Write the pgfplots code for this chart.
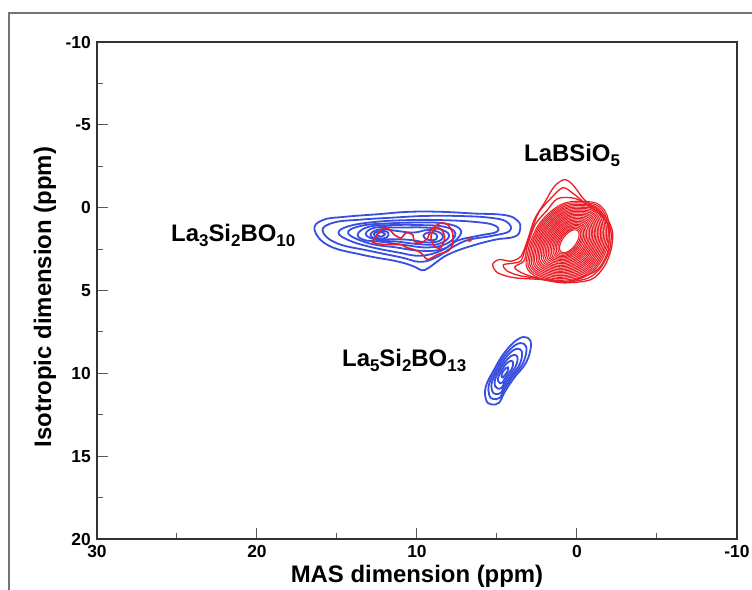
\documentclass[border=0pt]{standalone}
\usepackage{pgfplots}
\pgfplotsset{compat=1.18}
\usepackage{fontspec}
\setmainfont{Liberation Sans}
\definecolor{blueC}{RGB}{55,78,225}
\definecolor{redC}{RGB}{234,30,38}
\newcommand{\sub}[1]{\raisebox{-5bp}{\fontsize{17}{17}\selectfont #1}}
\begin{document}
\begin{tikzpicture}
\begin{axis}[
  at={(0,0)}, anchor=south west,
  scale only axis, width=640bp, height=497bp,
  x dir=reverse, y dir=reverse,
  xmin=-10, xmax=30, ymin=-10, ymax=20,
  xtick={-10,0,10,20,30}, xticklabels={-10,0,10,20,30},
  ytick={-10,-5,0,5,10,15,20}, yticklabels={-10,-5,0,5,10,15,20},
  minor tick num=1,
  tick align=inside, tick pos=left,
  major tick length=11bp, minor tick length=6bp,
  axis line style={draw=black!80, line width=1.3bp},
  tick style={draw=black!65, line width=1bp},
  ticklabel style={font=\bfseries\fontsize{17.5}{17.5}\selectfont, inner sep=0pt},
  xticklabel style={yshift=-6bp},
  yticklabel style={xshift=-6bp},
  xlabel={MAS dimension (ppm)},
  ylabel={Isotropic dimension (ppm)},
  xlabel style={at={(axis description cs:0.5,0)}, anchor=center, yshift=-37bp, font=\bfseries\fontsize{24}{24}\selectfont},
  ylabel style={at={([xshift=-52bp]axis description cs:0,0.487)}, anchor=center, font=\bfseries\fontsize{24}{24}\selectfont},
  bc/.style={draw=blueC, line width=1.8bp, smooth cycle, tension=0.7, mark=none},
  rc/.style={draw=redC, line width=1.3bp, smooth cycle, tension=0.7, mark=none},
  rd/.style={draw=redC, line width=1.1bp, smooth cycle, tension=0.7, mark=none},
]
% ---- La3Si2BO10 (blue)
\addplot[bc] coordinates {(16.4,1.35)(15.9,0.75)(14.5,0.55)(12.5,0.4)(10.5,0.25)(8.5,0.25)(6.5,0.35)(4.5,0.45)(3.7,0.8)(3.55,1.3)(3.9,1.75)(5.2,1.95)(6.9,2.4)(8.1,2.85)(8.8,3.3)(9.3,3.65)(9.7,3.78)(10.2,3.55)(11.2,3.25)(13.4,2.85)(15.5,2.3)};
\addplot[bc] coordinates {(15.9,1.4)(15.2,0.9)(13.5,0.72)(11.5,0.6)(9.5,0.5)(7.5,0.5)(5.5,0.6)(4.4,0.85)(4.2,1.4)(5.3,1.7)(6.8,1.95)(7.8,2.4)(8.8,3.0)(9.8,3.27)(11,3.0)(13,2.6)(15,2.15)};
\addplot[bc] coordinates {(14.9,1.5)(14.2,1.1)(12.5,0.85)(10.5,0.75)(8.5,0.75)(6.5,0.85)(5.2,1.05)(5.0,1.45)(6.2,1.7)(7.5,2.0)(8.5,2.6)(9.8,2.9)(11.2,2.7)(13,2.35)(14.3,1.95)};
\addplot[bc] coordinates {(14.3,1.55)(13.5,1.1)(11.8,0.95)(10,0.9)(8.3,0.95)(7.3,1.3)(7.5,1.9)(8.4,2.5)(9.8,2.6)(11.3,2.4)(13,2.15)};
\addplot[bc] coordinates {(13.7,1.6)(13,1.15)(11.5,1.05)(9.8,1.05)(8.3,1.15)(7.6,1.55)(8.1,2.15)(9.3,2.4)(10.8,2.25)(12.3,2.05)(13.3,1.95)};
\addplot[bc] coordinates {(13.2,1.6)(12.6,1.2)(11.2,1.2)(9.5,1.2)(8.4,1.35)(8.0,1.75)(8.7,2.2)(9.9,2.2)(11.2,2.05)(12.5,1.95)};
\addplot[bc] coordinates {(12.9,1.6)(12.3,1.3)(11.3,1.4)(10.2,1.5)(9.3,1.35)(8.5,1.55)(8.5,1.95)(9.3,2.1)(10.4,1.95)(11.5,1.9)(12.5,1.9)};
\addplot[bc] coordinates {(12.7,1.6)(12.3,1.4)(11.8,1.5)(11.9,1.8)(12.4,1.85)};
\addplot[bc] coordinates {(9.3,1.5)(8.8,1.6)(8.8,1.9)(9.3,1.95)(9.6,1.7)};
\addplot[bc] coordinates {(12.5,1.62)(12.25,1.48)(12.0,1.6)(12.25,1.75)};
% ---- red inside La3Si2BO10
\addplot[rc, line width=1.6bp, tension=0.4] coordinates {(12.77,2.03)(12.25,1.33)(11.83,1.23)(11.42,1.63)(11.0,1.83)(10.69,1.52)(10.27,1.63)(10.17,2.03)(9.75,2.13)(9.33,1.83)(9.13,1.33)(8.5,0.92)(8.08,1.02)(7.77,1.52)(7.77,2.23)(8.08,2.63)(8.71,2.83)(9.33,3.13)(9.75,2.73)(10.17,2.53)(10.58,2.43)(11.0,2.23)(11.42,2.23)(12.04,2.23)(12.67,2.13)};
\addplot[rc, line width=1.6bp] coordinates {(8.71,1.2)(8.35,1.5)(8.3,2.0)(8.6,2.45)(9.0,2.2)(9.1,1.6)};
\addplot[rc] coordinates {(6.75,1.88)(6.62,1.9)(6.62,2.0)(6.75,2.02)};
% ---- La5Si2BO13 (blue)
\addplot[bc] coordinates {(3.08,7.85)(2.88,8.36)(3.19,9.36)(3.92,10.26)(4.54,11.16)(4.86,11.77)(5.38,11.87)(5.69,11.57)(5.69,10.77)(5.17,9.76)(4.54,8.76)(3.71,7.95)};
\addplot[bc] coordinates {(3.33,8.21)(3.16,8.63)(3.42,9.46)(4.03,10.21)(4.54,10.96)(4.81,11.46)(5.24,11.55)(5.49,11.30)(5.49,10.63)(5.06,9.79)(4.54,8.96)(3.85,8.29)};
\addplot[bc] coordinates {(3.56,8.55)(3.43,8.89)(3.64,9.56)(4.12,10.16)(4.54,10.76)(4.75,11.17)(5.10,11.24)(5.31,11.04)(5.31,10.50)(4.96,9.83)(4.54,9.16)(3.98,8.61)};
\addplot[bc] coordinates {(3.81,8.91)(3.71,9.16)(3.87,9.66)(4.23,10.11)(4.54,10.56)(4.70,10.87)(4.96,10.92)(5.12,10.77)(5.12,10.37)(4.86,9.86)(4.54,9.36)(4.13,8.96)};
\addplot[bc] coordinates {(4.06,9.26)(3.99,9.43)(4.09,9.76)(4.34,10.06)(4.54,10.36)(4.65,10.56)(4.82,10.59)(4.92,10.49)(4.92,10.23)(4.75,9.89)(4.54,9.56)(4.27,9.30)};
\addplot[bc] coordinates {(4.32,9.64)(4.34,9.87)(4.54,10.14)(4.67,10.25)(4.71,10.08)(4.54,9.78)};
% ---- LaBSiO5 (red)
\addplot[rc, tension=0.5] coordinates {(0.79,-1.69)(0.27,-1.39)(-0.46,-0.48)(-1.29,0.12)(-1.92,0.72)(-2.23,1.52)(-2.13,2.53)(-1.71,3.54)(-0.88,4.34)(0.79,4.54)(2.25,4.34)(3.92,4.23)(4.96,3.93)(5.27,3.43)(4.86,3.13)(4.13,3.23)(3.5,2.93)(3.08,1.93)(2.67,0.72)(2.04,-0.28)(1.42,-1.28)};
\addplot[rc, tension=0.5] coordinates {(0.9,-1.2)(0.3,-0.9)(-0.6,-0.2)(-1.5,0.45)(-2.1,1.3)(-2.05,2.5)(-1.5,3.6)(-0.7,4.25)(0.7,4.48)(2.2,4.3)(3.6,4.1)(4.4,3.8)(4.6,3.45)(4.0,3.35)(3.5,3.2)(3.2,2.4)(2.8,1.3)(2.4,0.3)(1.6,-0.6)};
\addplot[rc, tension=0.5] coordinates {(1.2,-0.55)(0.1,-0.55)(-1.0,0.05)(-1.9,0.95)(-1.95,2.55)(-1.2,3.8)(0.6,4.45)(2.1,4.33)(3.3,4.0)(3.9,3.6)(3.3,3.2)(3.1,2.3)(2.6,1.0)(1.9,0.2)};
% dense levels
\addplot[rd] coordinates {(-1.50,-0.10)(-0.25,-0.38)(1.00,-0.18)(2.15,0.72)(2.77,1.73)(3.08,2.73)(3.08,3.73)(2.04,4.34)(0.58,4.44)(-0.88,3.93)(-1.81,2.63)(-2.02,1.13)};
\addplot[rd] coordinates {(-1.42,-0.03)(-0.23,-0.29)(0.97,-0.10)(2.08,0.77)(2.68,1.75)(2.98,2.72)(2.97,3.68)(1.98,4.25)(0.58,4.35)(-0.83,3.85)(-1.72,2.59)(-1.93,1.15)};
\addplot[rd] coordinates {(-1.35,0.05)(-0.21,-0.20)(0.95,-0.01)(2.01,0.82)(2.60,1.77)(2.88,2.70)(2.87,3.62)(1.91,4.18)(0.57,4.25)(-0.78,3.77)(-1.64,2.56)(-1.83,1.18)};
\addplot[rd] coordinates {(-1.28,0.12)(-0.19,-0.12)(0.92,0.07)(1.95,0.87)(2.51,1.79)(2.78,2.69)(2.77,3.57)(1.85,4.09)(0.56,4.16)(-0.72,3.69)(-1.55,2.53)(-1.74,1.20)};
\addplot[rd] coordinates {(-1.21,0.20)(-0.16,-0.03)(0.90,0.15)(1.88,0.93)(2.42,1.81)(2.68,2.67)(2.66,3.52)(1.79,4.01)(0.56,4.07)(-0.67,3.61)(-1.46,2.49)(-1.64,1.22)};
\addplot[rd] coordinates {(-1.13,0.27)(-0.14,0.05)(0.87,0.24)(1.81,0.98)(2.33,1.83)(2.59,2.66)(2.56,3.47)(1.72,3.93)(0.55,3.97)(-0.62,3.53)(-1.37,2.46)(-1.55,1.25)};
\addplot[rd] coordinates {(-1.06,0.35)(-0.12,0.14)(0.85,0.32)(1.75,1.03)(2.25,1.85)(2.48,2.65)(2.45,3.41)(1.66,3.85)(0.54,3.88)(-0.57,3.44)(-1.29,2.42)(-1.46,1.27)};
\addplot[rd] coordinates {(-0.99,0.42)(-0.10,0.23)(0.82,0.40)(1.68,1.08)(2.16,1.87)(2.39,2.63)(2.35,3.36)(1.60,3.77)(0.54,3.79)(-0.52,3.36)(-1.20,2.39)(-1.36,1.30)};
\addplot[rd] coordinates {(-0.91,0.50)(-0.07,0.31)(0.80,0.49)(1.61,1.14)(2.07,1.89)(2.29,2.62)(2.25,3.31)(1.53,3.69)(0.53,3.70)(-0.47,3.28)(-1.11,2.35)(-1.27,1.32)};
\addplot[rd] coordinates {(-0.84,0.57)(-0.05,0.40)(0.78,0.57)(1.54,1.19)(1.98,1.91)(2.19,2.61)(2.14,3.25)(1.47,3.61)(0.53,3.60)(-0.41,3.20)(-1.02,2.32)(-1.17,1.34)};
\addplot[rd] coordinates {(-0.77,0.65)(-0.03,0.48)(0.75,0.65)(1.48,1.24)(1.90,1.93)(2.09,2.59)(2.04,3.20)(1.40,3.53)(0.52,3.51)(-0.36,3.12)(-0.94,2.28)(-1.08,1.37)};
\addplot[rd] coordinates {(-0.69,0.72)(-0.01,0.57)(0.73,0.73)(1.41,1.29)(1.81,1.95)(1.99,2.58)(1.93,3.15)(1.34,3.45)(0.51,3.42)(-0.31,3.03)(-0.85,2.25)(-0.98,1.39)};
\addplot[rd] coordinates {(-0.62,0.79)(0.02,0.66)(0.70,0.82)(1.34,1.35)(1.72,1.96)(1.89,2.56)(1.83,3.09)(1.27,3.36)(0.50,3.32)(-0.26,2.95)(-0.76,2.22)(-0.89,1.42)};
\addplot[rd] coordinates {(-0.55,0.87)(0.04,0.74)(0.68,0.90)(1.28,1.40)(1.63,1.98)(1.79,2.55)(1.72,3.04)(1.21,3.28)(0.50,3.23)(-0.21,2.87)(-0.67,2.18)(-0.79,1.44)};
\addplot[rd] coordinates {(-0.48,0.94)(0.06,0.83)(0.65,0.98)(1.21,1.45)(1.55,2.00)(1.69,2.54)(1.62,2.99)(1.15,3.20)(0.49,3.14)(-0.16,2.79)(-0.59,2.15)(-0.70,1.46)};
\addplot[rd] coordinates {(-0.40,1.02)(0.08,0.91)(0.63,1.07)(1.14,1.50)(1.46,2.02)(1.59,2.52)(1.52,2.94)(1.08,3.12)(0.49,3.04)(-0.11,2.71)(-0.50,2.11)(-0.60,1.49)};
\addplot[rd] coordinates {(-0.33,1.09)(0.11,1.00)(0.60,1.15)(1.08,1.56)(1.37,2.04)(1.49,2.51)(1.41,2.88)(1.02,3.04)(0.48,2.95)(-0.05,2.62)(-0.41,2.08)(-0.51,1.51)};
\addplot[rd] coordinates {(-0.26,1.17)(0.13,1.09)(0.58,1.23)(1.01,1.61)(1.28,2.06)(1.39,2.49)(1.31,2.83)(0.96,2.96)(0.47,2.86)(0.00,2.54)(-0.32,2.04)(-0.42,1.54)};
\addplot[rd] coordinates {(-0.18,1.24)(0.15,1.17)(0.55,1.32)(0.94,1.66)(1.20,2.08)(1.29,2.48)(1.21,2.78)(0.89,2.88)(0.47,2.77)(0.05,2.46)(-0.24,2.01)(-0.32,1.56)};
\addplot[rd] coordinates {(-0.11,1.32)(0.17,1.26)(0.53,1.40)(0.88,1.71)(1.11,2.10)(1.19,2.47)(1.10,2.72)(0.83,2.80)(0.46,2.67)(0.10,2.38)(-0.15,1.97)(-0.23,1.58)};
\addplot[rd] coordinates {(-0.04,1.39)(0.20,1.34)(0.51,1.48)(0.81,1.77)(1.02,2.12)(1.09,2.45)(1.00,2.67)(0.76,2.72)(0.45,2.58)(0.15,2.30)(-0.06,1.94)(-0.13,1.61)};
% ---- labels
\node[anchor=base west, inner sep=0pt, font=\bfseries\fontsize{24}{24}\selectfont] at (axis cs:25.375,2.07) {La\sub{3}Si\sub{2}BO\sub{10}};
\node[anchor=base west, inner sep=0pt, font=\bfseries\fontsize{24}{24}\selectfont] at (axis cs:3.31,-2.76) {LaBSiO\sub{5}};
\node[anchor=base west, inner sep=0pt, font=\bfseries\fontsize{24}{24}\selectfont] at (axis cs:14.69,9.61) {La\sub{5}Si\sub{2}BO\sub{13}};
\end{axis}
\draw[black!55, line width=1.2bp] (-88bp,-70bp) -- (-88bp,526bp) -- (700bp,526bp);
\pgfresetboundingbox
\path[use as bounding box] (-97bp,-51bp) rectangle (655bp,539bp);
\end{tikzpicture}
\end{document}
